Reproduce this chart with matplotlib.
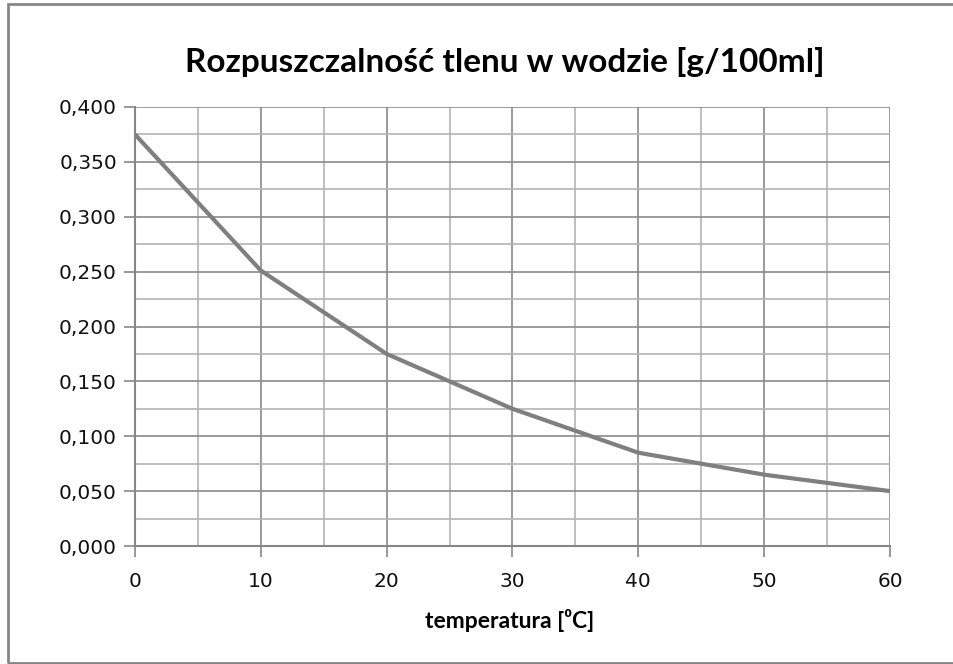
import matplotlib
matplotlib.use('Agg')
import matplotlib.pyplot as plt
from matplotlib.ticker import MultipleLocator, FuncFormatter
from matplotlib.patches import Rectangle

# Solubility of oxygen in water
temperature = [0, 10, 20, 30, 40, 50, 60]
solubility = [0.375, 0.251, 0.175, 0.125, 0.085, 0.065, 0.050]

title_text = "Rozpuszczalność tlenu w wodzie [g/100ml]"
xlabel_text = "temperatura [\u2070C]"

fig = plt.figure(figsize=(9.54, 6.64), dpi=100)
ax = fig.add_axes([135 / 954, 1 - 546 / 664, 755 / 954, 439 / 664])

# outer frame (right edge is cut off in the original)
fig.patches.append(Rectangle((8 / 954, 1 / 664), 1.2, 659 / 664, transform=fig.transFigure,
                             fill=False, edgecolor='#868686', linewidth=2))

ax.plot(temperature, solubility, color='#7f7f7f', linewidth=3, solid_capstyle='butt', zorder=3)

ax.set_xlim(0, 60)
ax.set_ylim(0, 0.4)
ax.xaxis.set_major_locator(MultipleLocator(10))
ax.xaxis.set_minor_locator(MultipleLocator(5))
ax.yaxis.set_major_locator(MultipleLocator(0.05))
ax.yaxis.set_minor_locator(MultipleLocator(0.025))
ax.yaxis.set_major_formatter(FuncFormatter(lambda v, p: f"{v:.3f}".replace('.', ',')))

ax.grid(which='major', color='#8a8a8a', linewidth=1.2)
ax.grid(which='minor', color='#b4b4b4', linewidth=1.2)
ax.set_axisbelow(True)

for s in ['top', 'right']:
    ax.spines[s].set_visible(False)
for s in ['left', 'bottom']:
    ax.spines[s].set_color('#868686')
    ax.spines[s].set_linewidth(1.5)

ax.tick_params(which='major', length=8, width=1.2, color='#868686', labelsize=14.5,
               labelcolor='#111111', pad=5)
ax.tick_params(axis='x', pad=11)
ax.tick_params(which='minor', length=0)

fig.text(505 / 954, 1 - 62 / 664, title_text, ha='center', va='center',
         fontsize=24, fontweight='bold', family=['Lato', 'DejaVu Sans'])
fig.text(510 / 954, 1 - 620 / 664, xlabel_text, ha='center', va='center',
         fontsize=16.5, fontweight='bold', family=['Lato', 'DejaVu Sans'])

fig.savefig('out.png', dpi=100)
